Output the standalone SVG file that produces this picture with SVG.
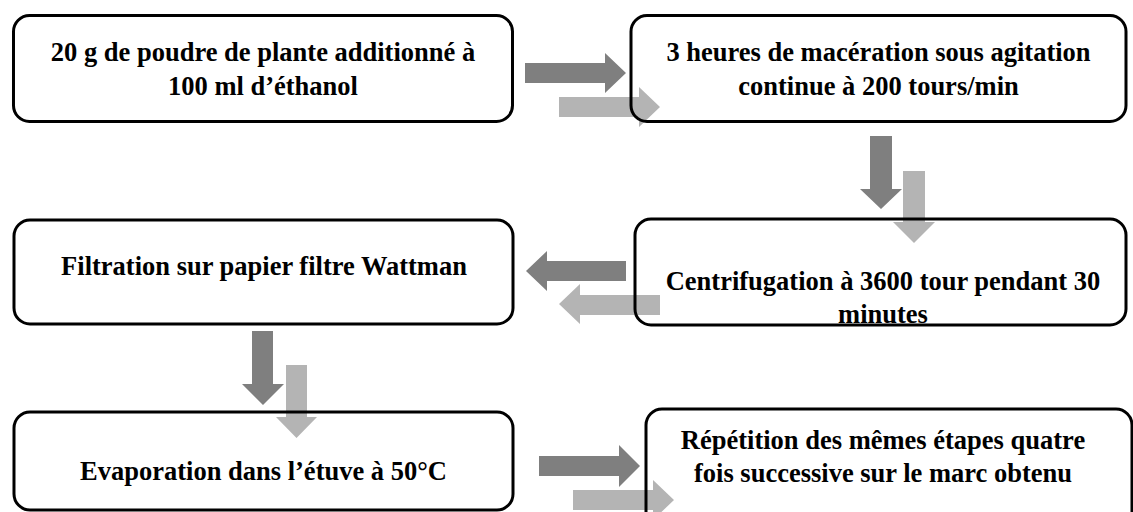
<svg xmlns="http://www.w3.org/2000/svg" width="1133" height="512" viewBox="0 0 1133 512">
  <style>
    .box { fill: none; stroke: #000; stroke-width: 3; }
    .t { font-family: "Liberation Serif", "Times New Roman", serif; font-weight: bold; font-size: 26.5px; fill: #000; text-anchor: middle; }
    .dark { fill: #7f7f7f; }
    .light { fill: #b4b4b4; }
  </style>
  <rect width="1133" height="512" fill="#fff"/>
  <g id="connectors">
    <polygon class="dark" points="525,63 605,63 605,53 626,73 605,93 605,83 525,83"/>
    <polygon class="light" points="559,97 639,97 639,87 660,107 639,127 639,117 559,117"/>
    <polygon class="dark" points="870,136 892,136 892,189 902,189 881,209 860,189 870,189"/>
    <polygon class="light" points="903,171 925,171 925,222 935,222 914,243 893,222 903,222"/>
    <polygon class="dark" points="626,261 547,261 547,251 526,271 547,291 547,281 626,281"/>
    <polygon class="light" points="660,295 580,295 580,284 559,304 580,324 580,315 660,315"/>
    <polygon class="dark" points="252,331 273,331 273,384 284,384 263,405 242,384 252,384"/>
    <polygon class="light" points="286,365 307,365 307,417 317,417 296.5,438 276,417 286,417"/>
    <polygon class="dark" points="539,456 619,456 619,445 640,466 619,487 619,476 539,476"/>
    <polygon class="light" points="573,490 653,490 653,480 674,500 653,520 653,510 573,510"/>
  </g>
  <g id="node1">
    <rect class="box" x="13.5" y="15.5" width="499" height="106" rx="16"/>
    <text class="t" x="263" y="61">20 g de poudre de plante additionné à</text>
    <text class="t" x="263" y="95">100 ml d’éthanol</text>
  </g>
  <g id="node2">
    <rect class="box" x="631" y="15.5" width="495" height="106" rx="16"/>
    <text class="t" x="878.5" y="61">3 heures de macération sous agitation</text>
    <text class="t" x="878.5" y="95">continue à 200 tours/min</text>
  </g>
  <g id="node3">
    <rect class="box" x="635" y="219" width="491" height="106" rx="16"/>
    <text class="t" x="883" y="290">Centrifugation à 3600 tour pendant 30</text>
    <text class="t" x="883" y="323">minutes</text>
  </g>
  <g id="node4">
    <rect class="box" x="14" y="220" width="499" height="104" rx="16"/>
    <text class="t" x="264" y="275">Filtration sur papier filtre Wattman</text>
  </g>
  <g id="node5">
    <rect class="box" x="14" y="412" width="499" height="98" rx="16"/>
    <text class="t" x="263.5" y="480">Evaporation dans l’étuve à 50°C</text>
  </g>
  <g id="node6">
    <rect class="box" x="646" y="409" width="486" height="130" rx="16"/>
    <text class="t" x="883" y="449">Répétition des mêmes étapes quatre</text>
    <text class="t" x="883" y="482">fois successive sur le marc obtenu</text>
  </g>
</svg>
